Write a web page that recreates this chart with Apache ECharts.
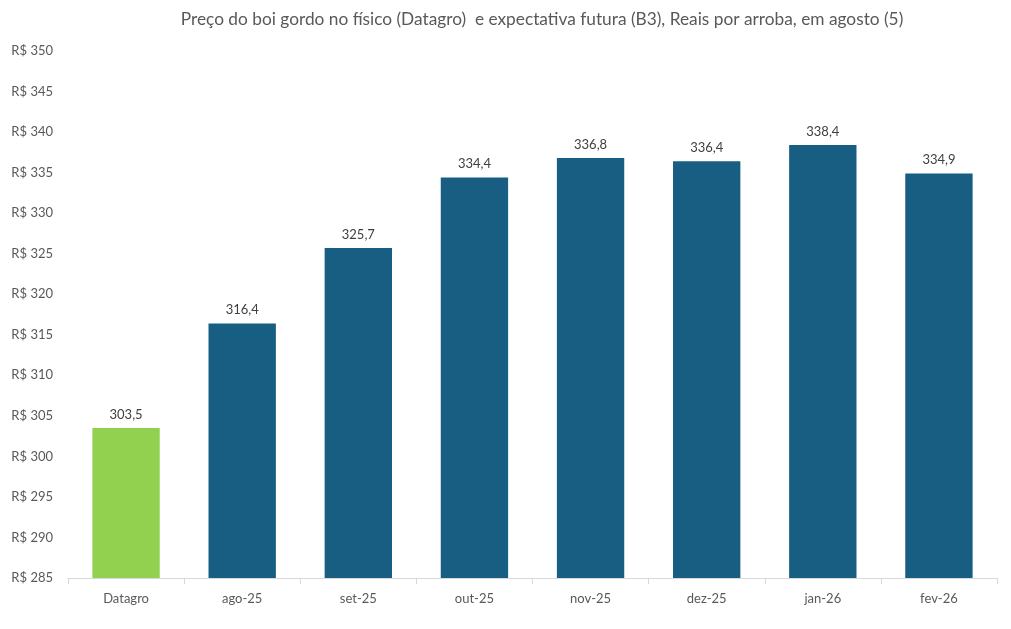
<!DOCTYPE html>
<html>
<head>
<meta charset="utf-8">
<script src="https://cdn.jsdelivr.net/npm/echarts@6/dist/echarts.min.js"></script>
<style>
html,body{margin:0;padding:0;background:#fff;}
#chart{width:1011px;height:629px;}
</style>
</head>
<body>
<div id="chart"></div>
<script>
const titleText = 'Preço do boi gordo no físico (Datagro)  e expectativa futura (B3), Reais por arroba, em agosto (5)';
const categories = ['Datagro', 'ago-25', 'set-25', 'out-25', 'nov-25', 'dez-25', 'jan-26', 'fev-26'];
const values = [303.5, 316.4, 325.7, 334.4, 336.8, 336.4, 338.4, 334.9];
const barColors = ['#92D050', '#175E82', '#175E82', '#175E82', '#175E82', '#175E82', '#175E82', '#175E82'];
const yMin = 285, yMax = 350, yStep = 5;

const chart = echarts.init(document.getElementById('chart'));
const font = 'Lato, "Open Sans", sans-serif';
chart.setOption({
  animation: false,
  backgroundColor: '#fff',
  title: {
    text: titleText,
    left: 537, top: 6, textAlign: 'center',
    textStyle: { fontFamily: font, fontSize: 17.3, fontWeight: 'normal', color: '#595959' }
  },
  grid: { left: 68, right: 14, top: 51, bottom: 51 },
  xAxis: {
    type: 'category',
    data: categories,
    axisLine: { lineStyle: { color: '#D9D9D9' } },
    axisTick: { show: true, length: 6, lineStyle: { color: '#D9D9D9' } },
    axisLabel: { color: '#595959', fontFamily: font, fontSize: 13, margin: 14 }
  },
  yAxis: {
    type: 'value',
    min: yMin, max: yMax, interval: yStep,
    splitLine: { show: false },
    axisLine: { show: false },
    axisTick: { show: false },
    axisLabel: {
      color: '#595959', fontFamily: font, fontSize: 13, margin: 15,
      formatter: v => 'R$ ' + v
    }
  },
  series: [{
    type: 'bar',
    data: values.map((v, i) => ({ value: v, itemStyle: { color: barColors[i] } })),
    barWidth: '58%',
    label: {
      show: true, position: 'top', distance: 7,
      color: '#404040', fontFamily: font, fontSize: 13,
      formatter: p => p.value.toFixed(1).replace('.', ',')
    }
  }]
});
</script>
</body>
</html>
